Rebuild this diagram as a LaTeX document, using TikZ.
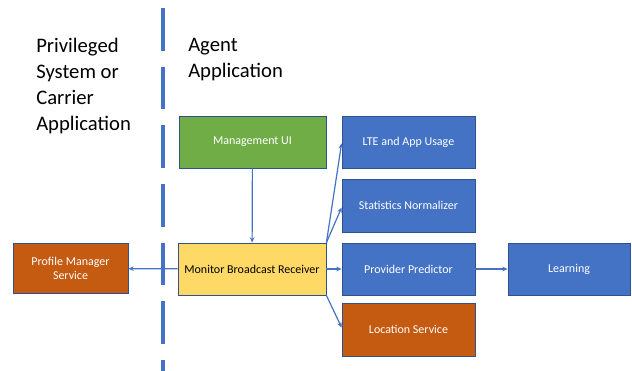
\documentclass[tikz,border=0pt]{standalone}
\usepackage{fontspec}
\setmainfont{Carlito}
\usetikzlibrary{arrows.meta,positioning}
\definecolor{offgreen}{HTML}{70AD47}
\definecolor{offblue}{HTML}{4472C4}
\definecolor{offorange}{HTML}{C55A11}
\definecolor{offyellow}{HTML}{FFD966}
\definecolor{offedge}{HTML}{2F528F}
\begin{document}
\begin{tikzpicture}
[x=0.75pt,y=-0.75pt,%
  box/.style={rectangle,draw=offedge,line width=0.6pt,text=white,font=\fontsize{9}{11}\selectfont,align=center,inner sep=0pt},%
  link/.style={draw=offblue,line width=0.9pt,-{Stealth[length=4pt,width=3.5pt]}},%
  title/.style={font=\fontsize{15.5}{19.5}\selectfont,align=left,anchor=north west,inner sep=0pt}]
\useasboundingbox (0,0) rectangle (632,371);
% divider
\draw[offblue,line width=2.4pt,dash pattern=on 32 off 12] (163,8) -- (163,371);
% headings
\node[title] (priv) at (36,38) {Privileged\\System or\\Carrier\\Application};
\node[title] (agent) at (188,38) {Agent\\Application};
% boxes
\node[box,fill=offgreen,minimum width=110.25pt,minimum height=39pt] (mgmt) at (252.5,142) {Management UI};
\node[box,fill=offyellow,text=black,minimum width=111pt,minimum height=39pt] (monitor) at (252,269) {Monitor Broadcast Receiver};
\node[box,fill=offorange,minimum width=86.25pt,minimum height=37pt] (profile) at (70.5,268.5) {Profile Manager\\Service};
\node[box,fill=offblue,minimum width=99.75pt,minimum height=39pt] (lte) at (408.5,142) {LTE and App Usage};
\node[box,fill=offblue,minimum width=99.75pt,minimum height=39.75pt] (stats) at (408.5,205.5) {Statistics Normalizer};
\node[box,fill=offblue,minimum width=99.75pt,minimum height=39pt] (predictor) at (408.5,269) {Provider Predictor};
\node[box,fill=offorange,minimum width=99.75pt,minimum height=39.75pt] (location) at (408.5,329.5) {Location Service};
\node[box,fill=offblue,minimum width=91.5pt,minimum height=39pt] (learning) at (569,269) {Learning};
% connectors
\draw[link] (mgmt) -- (monitor);
\draw[link] (monitor.north east) -- ([yshift=-1pt]lte.west);
\draw[link] (monitor.north east) -- ([yshift=-1.5pt]stats.west);
\draw[link] (monitor) -- (predictor);
\draw[link] (monitor.south east) -- ([yshift=1.5pt]location.west);
\draw[link] (predictor) -- (learning);
\draw[link] (monitor) -- (profile);
\end{tikzpicture}
\end{document}
